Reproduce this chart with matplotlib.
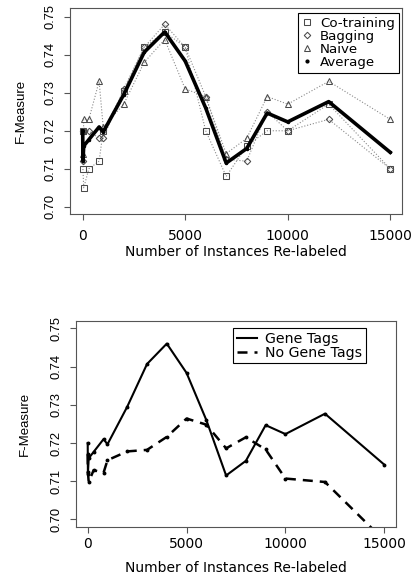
import numpy as np
import matplotlib
matplotlib.use("Agg")
import matplotlib.pyplot as plt
from matplotlib.lines import Line2D

# instances re-labeled (x axis) and F-measure per method
x = [0, 10, 50, 300, 800, 1000, 2000, 3000, 4000, 5000, 6000,
     7000, 8000, 9000, 10000, 12000, 15000]
co_training = [0.720, 0.710, 0.705, 0.710, 0.712, 0.720, 0.7305, 0.742, 0.746,
               0.742, 0.720, 0.708, 0.716, 0.720, 0.720, 0.727, 0.710]
bagging = [0.720, 0.712, 0.720, 0.720, 0.718, 0.718, 0.731, 0.742, 0.748,
           0.742, 0.729, 0.7125, 0.712, 0.725, 0.720, 0.723, 0.710]
naive = [0.720, 0.714, 0.723, 0.723, 0.733, 0.721, 0.727, 0.738, 0.744,
         0.731, 0.729, 0.714, 0.718, 0.729, 0.727, 0.733, 0.723]
average = np.mean([co_training, bagging, naive], axis=0)

# second panel: with and without gene tags
gene_tags = average
no_gene_tags = [0.717, 0.7125, 0.7098, 0.7129, 0.7122, 0.7155, 0.7178, 0.7182,
                0.7216, 0.7264, 0.7248, 0.7186, 0.7215, 0.7183, 0.7107, 0.7098,
                0.6945]

xticks = [0, 5000, 10000, 15000]
yticks = [0.70, 0.71, 0.72, 0.73, 0.74, 0.75]

AXC = "#555555"
W, H = 414, 578


def style_axes(ax, xlim, ylim, xpad, ypad):
    ax.set_xlim(*xlim)
    ax.set_ylim(*ylim)
    ax.set_xticks(xticks)
    ax.set_yticks(yticks)
    ax.set_yticklabels([f"{v:.2f}" for v in yticks])
    for s in ax.spines.values():
        s.set_color(AXC)
        s.set_linewidth(0.8)
    ax.tick_params(direction="out", length=4.5, width=0.8, color=AXC)
    ax.tick_params(axis="x", pad=xpad, labelsize=10)
    ax.tick_params(axis="y", pad=ypad, labelrotation=90)
    for lbl in ax.get_yticklabels():
        lbl.set_va("center")
        lbl.set_family("Liberation Sans")
        lbl.set_fontsize(9.3)


fig = plt.figure(figsize=(W / 100, H / 100), dpi=100)
plt.rcParams["font.family"] = ["DejaVu Sans"]

# ---------------- top panel ----------------
ax1 = fig.add_axes([70 / W, 1 - 214 / H, 332 / W, 206 / H])
dot = dict(ls=":", lw=0.8, color="#8a8a8a", mfc="none", mec="#4a4a4a", mew=0.75)
ax1.plot(x, co_training, marker="s", ms=3.8, **dot)
ax1.plot(x, bagging, marker="D", ms=3.3, **dot)
ax1.plot(x, naive, marker="^", ms=4.8, **dot)
ax1.plot(x, average, color="black", lw=2.6, marker=".", ms=3)
style_axes(ax1, (-620, 15576), (0.6981, 0.7523), 6.5, 5)
ax1.set_xlabel("Number of Instances Re-labeled", fontsize=10, va="center")
ax1.xaxis.set_label_coords(0.5, -0.184)
ax1.set_ylabel("F-Measure", family="Liberation Sans", fontsize=9.5, va="center")
ax1.yaxis.set_label_coords(-0.148, 0.5)

handles = [
    Line2D([], [], ls="none", marker="s", ms=3.8, mfc="none", mec="#4a4a4a", mew=0.75),
    Line2D([], [], ls="none", marker="D", ms=3.3, mfc="none", mec="#4a4a4a", mew=0.75),
    Line2D([], [], ls="none", marker="^", ms=4.8, mfc="none", mec="#4a4a4a", mew=0.75),
    Line2D([], [], ls="none", marker=".", ms=4, color="black"),
]
leg1 = ax1.legend(handles, ["Co-training", "Bagging", "Naive", "Average"],
                  loc="upper right", bbox_to_anchor=(1 - 3 / 332, 1 - 5 / 206),
                  borderaxespad=0, fontsize=9.6, labelspacing=0.0,
                  handlelength=0.8, handletextpad=0.55, borderpad=0.3,
                  fancybox=False, framealpha=1, edgecolor="black")
leg1.get_frame().set_linewidth(0.8)

# ---------------- bottom panel ----------------
ax2 = fig.add_axes([76 / W, 1 - 526.7 / H, 320 / W, 206 / H])
ax2.plot(x, gene_tags, color="black", lw=1.5, marker="o", ms=1.8,
         label="Gene Tags")
ax2.plot(x, no_gene_tags, color="black", lw=1.8, marker="o", ms=1.8,
         dashes=(4, 2.8), label="No Gene Tags")
style_axes(ax2, (-592, 15592), (0.6981, 0.752), 3, 5)
ax2.set_xlabel("Number of Instances Re-labeled", fontsize=10, va="center")
ax2.xaxis.set_label_coords(0.5, -0.2005)
ax2.set_ylabel("F-Measure", family="Liberation Sans", fontsize=9.5, va="center")
ax2.yaxis.set_label_coords(-0.159, 0.5)

leg2 = ax2.legend(loc="upper right", bbox_to_anchor=((366 - 76) / 320, 1 - 7.3 / 206),
                  borderaxespad=0, fontsize=10.2, labelspacing=0.0,
                  handlelength=1.4, handletextpad=0.6, borderpad=0.25,
                  fancybox=False, framealpha=1, edgecolor="black")
leg2.get_frame().set_linewidth(0.8)
for ln in leg2.get_lines():
    ln.set_marker("")

fig.savefig("out.png", dpi=100)
